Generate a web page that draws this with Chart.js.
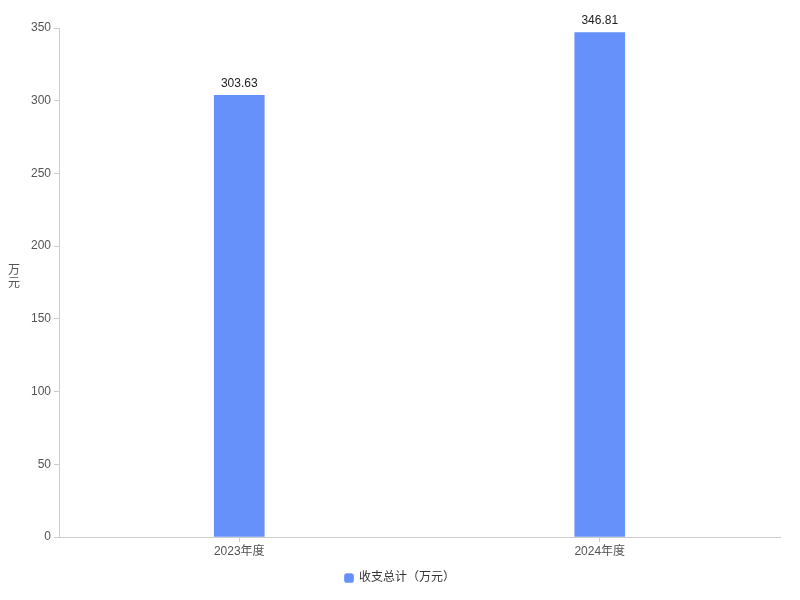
<!DOCTYPE html>
<html>
<head>
<meta charset="utf-8">
<script src="https://cdn.jsdelivr.net/npm/chart.js@4"></script>
<style>
  html, body { margin: 0; padding: 0; background: #fff; }
  #wrap { width: 800px; height: 600px; }
</style>
</head>
<body>
<div id="wrap"><canvas id="chart" width="800" height="600"></canvas></div>
<script>
const categories = ["2023年度", "2024年度"];
const totals = [303.63, 346.81];
const seriesName = "收支总计（万元）";
const yTitle = ["万", "元"];

const fontFamily = "'Liberation Sans', Arial, 'Noto Sans CJK SC', sans-serif";

// value labels above each bar
const barLabels = {
    id: "barLabels",
    afterDatasetsDraw(chart) {
        const ctx = chart.ctx;
        const meta = chart.getDatasetMeta(0);
        ctx.save();
        ctx.font = "12px " + fontFamily;
        ctx.fillStyle = "#222";
        ctx.textAlign = "center";
        ctx.textBaseline = "bottom";
        meta.data.forEach((bar, i) => {
            ctx.fillText(totals[i].toFixed(2), bar.x, bar.y - 6);
        });
        ctx.restore();
    }
};

// upright stacked y axis title
const yTitlePlugin = {
    id: "yTitlePlugin",
    afterDraw(chart) {
        const ctx = chart.ctx;
        const area = chart.chartArea;
        ctx.save();
        ctx.font = "12px " + fontFamily;
        ctx.fillStyle = "#555";
        ctx.textAlign = "center";
        ctx.textBaseline = "middle";
        const mid = (area.top + area.bottom) / 2;
        ctx.fillText(yTitle[0], 14, mid - 12);
        ctx.fillText(yTitle[1], 14, mid + 1);
        ctx.restore();
    }
};

new Chart(document.getElementById("chart"), {
    type: "bar",
    data: {
        labels: categories,
        datasets: [{
            label: seriesName,
            data: totals,
            backgroundColor: "#6691fa",
            barThickness: 50
        }]
    },
    options: {
        responsive: false,
        animation: false,
        layout: { padding: { top: 28, right: 0, left: 0, bottom: 6 } },
        plugins: {
            legend: {
                position: "bottom",
                labels: {
                    usePointStyle: true,
                    pointStyle: "rectRounded",
                    boxWidth: 8,
                    boxHeight: 8,
                    color: "#333",
                    font: { size: 12, family: fontFamily },
                    padding: 10
                }
            },
            tooltip: { enabled: false }
        },
        scales: {
            x: {
                grid: { drawOnChartArea: false, offset: false, tickLength: 5, color: "#ccc" },
                border: { color: "#ccc" },
                ticks: { color: "#555", font: { size: 12, family: fontFamily }, padding: 2 },
                afterFit: s => { s.height = 25; }
            },
            y: {
                min: 0,
                max: 350,
                grid: { drawOnChartArea: false, tickLength: 5, color: "#ccc" },
                border: { color: "#ccc" },
                ticks: { stepSize: 50, color: "#555", font: { size: 12, family: fontFamily }, padding: 3 },
                afterFit: s => { s.width = 59; }
            },
            // empty right gutter so the legend stays centred on the page
            yRight: {
                position: "right",
                grid: { display: false },
                border: { display: false },
                ticks: { display: false },
                afterFit: s => { s.width = 20; }
            }
        }
    },
    plugins: [barLabels, yTitlePlugin]
});
</script>
</body>
</html>
